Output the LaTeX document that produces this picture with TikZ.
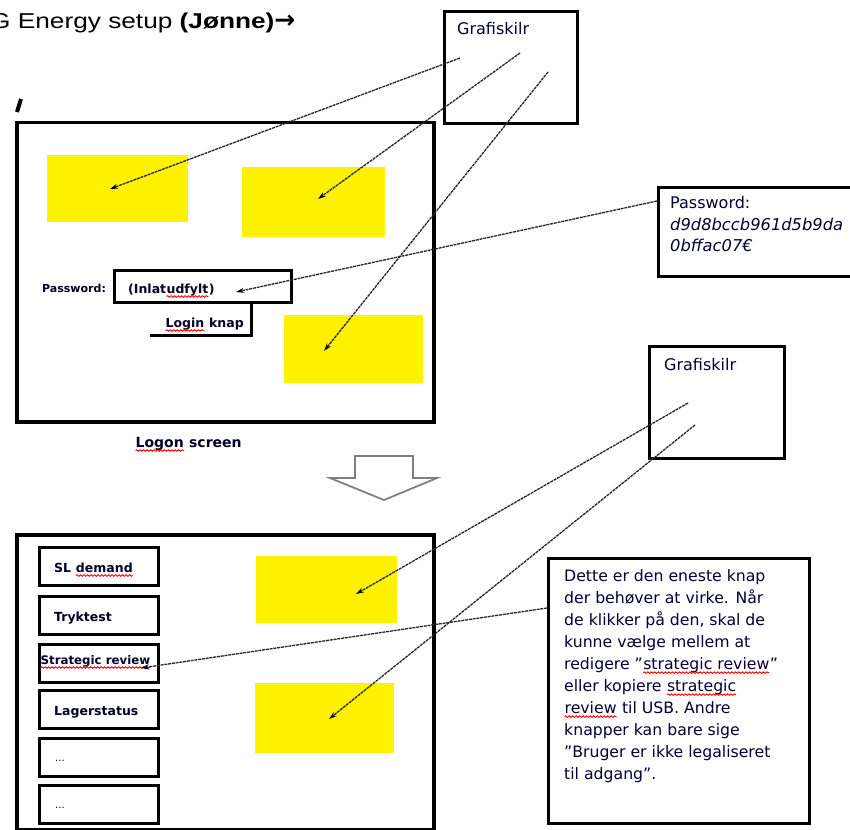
\documentclass[tikz,border=0pt]{standalone}
\usepackage{fontspec}
\setmainfont{Liberation Sans}
\newfontfamily\dv{DejaVu Sans}
\newfontfamily\titlefont{Liberation Sans}[FakeStretch=1.22]
\usetikzlibrary{arrows.meta,decorations.pathmorphing}
\newcommand\rw[1]{\tikz[baseline=(rwn.base)]{\node[inner sep=0pt,outer sep=0pt,anchor=base,draw=none,fill=none,minimum width=0pt,minimum height=0pt] (rwn) {#1};\draw[red,line width=0.9pt,decorate,decoration={snake,amplitude=0.8pt,segment length=3.5pt},-] ([yshift=-3.5pt]rwn.base west) -- ([yshift=-3.5pt]rwn.base east);}}
\begin{document}
\begin{tikzpicture}[x=1pt,y=-1pt,
  frame/.style={draw=black,line width=3.5pt,anchor=north west,inner sep=0pt},
  medframe/.style={draw=black,line width=3pt,anchor=north west,inner sep=0pt},
  btn/.style={draw=black,line width=2.8pt,anchor=north west,inner sep=0pt,minimum width=119pt,minimum height=38pt},
  yel/.style={fill=yellow,draw=none,anchor=north west,inner sep=0pt},
  conn/.style={draw=black!85,line width=1.3pt,dash pattern=on 3pt off 0.8pt,-{Stealth[length=8pt,width=5pt,black]}},
  lbl/.style={font=\dv\fontsize{12.5}{14}\selectfont\bfseries,anchor=base west,inner sep=0pt,text=black!85!blue},
  txt/.style={font=\dv\fontsize{16}{18}\selectfont,anchor=base west,inner sep=0pt,text=black!80!blue}
]
\useasboundingbox (0,0) rectangle (850,829);
\fill[white] (0,0) rectangle (850,829);

% title
\node[anchor=base west,inner sep=0pt,font=\titlefont\fontsize{21.5}{26}\selectfont] (title) at (-10,29) {G Energy setup \textbf{(Jønne)}{\dv\bfseries\fontsize{25}{26}\selectfont →}};

% top Grafiskilr box
\node[medframe,minimum width=133pt,minimum height=112pt] (g1) at (443,10) {};
\node[txt] (g1t) at (457,35) {Grafiskilr};

% logon screen
\draw[black,line width=4pt] (17,112) -- (21,99);
\node[frame,minimum width=417pt,minimum height=299pt] (s1) at (15,121) {};
\node[yel,minimum width=141pt,minimum height=67pt] (y1) at (47,155) {};
\node[yel,minimum width=143pt,minimum height=70pt] (y2) at (242,167) {};
\node[yel,minimum width=139pt,minimum height=68pt] (y3) at (284,315) {};

\node[lbl,font=\dv\fontsize{11}{13}\selectfont\bfseries] (pwl) at (42,292) {Password:};
\node[medframe,minimum width=177pt,minimum height=32pt] (pwf) at (113,269) {};
\node[lbl] (pwt) at (128,293) {(Inlat\rw{udfylt})};
\draw[black,line width=3pt] (165,302) -- (251,302) -- (251,335) -- (150,335);
\node[lbl] (lk) at (165,327) {\rw{Login} knap};

\node[lbl,font=\dv\fontsize{14}{16}\selectfont\bfseries] (ls) at (135,447) {\rw{Logon} screen};

% block arrow
\draw[gray,line width=1.8pt,line join=miter] (355,478) -- (355,456) -- (413,456) -- (413,478) -- (437,478) -- (384,500) -- (330,478) -- cycle;

% second screen
\node[frame,minimum width=417pt,minimum height=295pt] (s2) at (15,533) {};
\node[btn] (b1) at (38,546) {};
\node[btn] (b2) at (38,595) {};
\node[btn] (b3) at (38,643) {};
\node[btn] (b4) at (38,689) {};
\node[btn] (b5) at (38,737) {};
\node[btn] (b6) at (38,784) {};
\node[lbl] (b1t) at (54,572) {SL \rw{demand}};
\node[lbl] (b2t) at (54,621) {Tryktest};
\node[lbl,font=\dv\fontsize{11.8}{13}\selectfont\bfseries] (b3t) at (40,664) {\rw{Strategic review}};
\node[lbl] (b4t) at (54,715) {Lagerstatus};
\node[lbl,font=\dv\fontsize{10}{12}\selectfont] (b5t) at (55,761) {...};
\node[lbl,font=\dv\fontsize{10}{12}\selectfont] (b6t) at (55,808) {...};
\node[yel,minimum width=141pt,minimum height=67pt] (y4) at (256,556) {};
\node[yel,minimum width=139pt,minimum height=70pt] (y5) at (255,683) {};

% password box right
\node[medframe,minimum width=200pt,minimum height=89pt] (pwb) at (657,186) {};
\node[txt] (pwb1) at (670,208) {Password:};
\node[txt,font=\dv\fontsize{16.3}{18}\selectfont\itshape] (pwb2) at (670,230) {d9d8bccb961d5b9da};
\node[txt,font=\dv\fontsize{16.3}{18}\selectfont\itshape] (pwb3) at (670,251) {0bffac07€};

% second Grafiskilr box
\node[medframe,minimum width=135pt,minimum height=112pt] (g2) at (648,345) {};
\node[txt] (g2t) at (664,370) {Grafiskilr};

% big text box
\node[medframe,minimum width=261pt,minimum height=265pt] (tb) at (547,557) {};
\node[txt,anchor=north west,align=left,font=\dv\fontsize{15.7}{22}\selectfont] (tbt) at (564,569) {Dette er den eneste knap\\der behøver at virke. Når\\de klikker på den, skal de\\kunne vælge mellem at\\redigere ”\rw{strategic review}”\\eller kopiere \rw{strategic}\\\rw{review} til USB. Andre\\knapper kan bare sige\\”Bruger er ikke legaliseret\\til adgang”.};

% connector anchors
\coordinate (c1s) at (460,58);
\coordinate (c1e) at (110,189);
\coordinate (c2s) at (520,53);
\coordinate (c2e) at (318,199);
\coordinate (c3s) at (548,72);
\coordinate (c3e) at (324,351);
\coordinate (c4s) at (657,201);
\coordinate (c4e) at (236,292);
\coordinate (c5s) at (688,403);
\coordinate (c5e) at (356,594);
\coordinate (c6s) at (695,425);
\coordinate (c6e) at (329,719);
\coordinate (c7s) at (547,608);
\coordinate (c7e) at (141,668);

\draw[conn] (c1s) -- (c1e);
\draw[conn] (c2s) -- (c2e);
\draw[conn] (c3s) -- (c3e);
\draw[conn] (c4s) -- (c4e);
\draw[conn] (c5s) -- (c5e);
\draw[conn] (c6s) -- (c6e);
\draw[conn] (c7s) -- (c7e);
\end{tikzpicture}
\end{document}
